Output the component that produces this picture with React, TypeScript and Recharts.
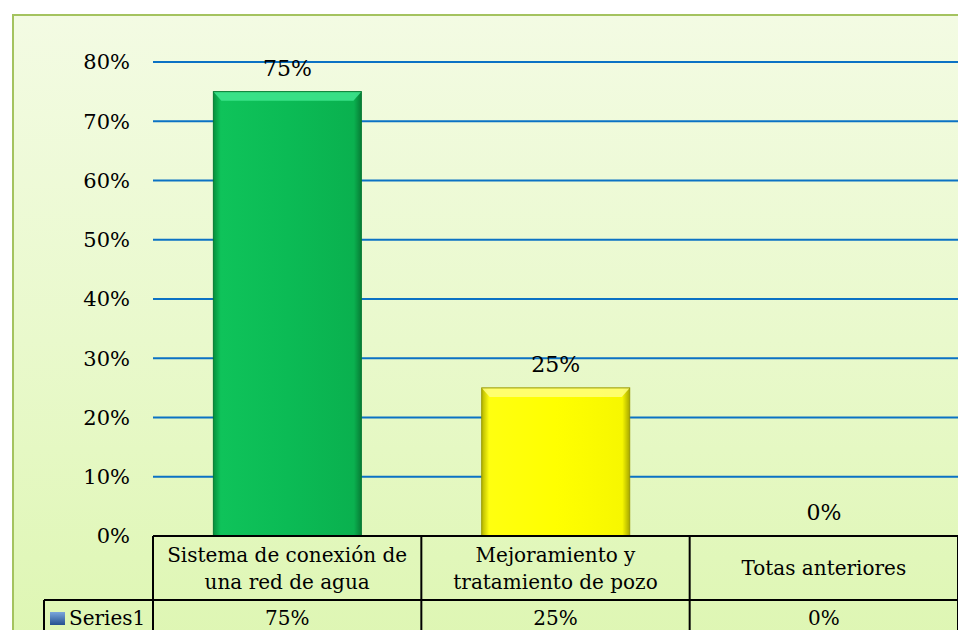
import { BarChart, Bar, XAxis, YAxis, CartesianGrid, Cell, LabelList } from "recharts";

// categorías del eje X (saltos de línea como en la tabla de datos)
const categories = [
  "Sistema de conexión de\nuna red de agua",
  "Mejoramiento y\ntratamiento de pozo",
  "Totas anteriores",
];
const series1 = [0.75, 0.25, 0];
const seriesName = "Series1";
const yTicks = [0, 0.1, 0.2, 0.3, 0.4, 0.5, 0.6, 0.7, 0.8];
const barColors = ["green", "yellow", "green"];

const data = categories.map((name, i) => ({ name, value: series1[i] }));

const W = 958;
const H = 630;
const Y_AXIS_W = 153;
const X_AXIS_H = 94;
const TOP = 62;
const BAND = (W - Y_AXIS_W) / categories.length;
const FONT = "'DejaVu Serif', serif";
const pct = (v: number) => `${Math.round(v * 100)}%`;

// celdas de la tabla de datos, dibujadas desde cada tick del eje X
function TableTick(props: any) {
  const { x, y, payload, index } = props;
  const lines = String(payload.value).split("\n");
  const row1 = 64;
  const bottom = 120;
  const left = x - BAND / 2;
  const right = x + BAND / 2;
  const lh = 27;
  const startY = y + row1 / 2 - ((lines.length - 1) * lh) / 2;
  return (
    <g fontFamily={FONT} fontSize={20} fill="#000">
      <line x1={right} y1={y} x2={right} y2={y + bottom} stroke="#000" strokeWidth={2} />
      {index === 0 && (
        <g>
          <line x1={left} y1={y} x2={left} y2={y + bottom} stroke="#000" strokeWidth={2} />
          <line x1={44} y1={y + row1} x2={W} y2={y + row1} stroke="#000" strokeWidth={2} />
          <line x1={44} y1={y + row1} x2={44} y2={y + bottom} stroke="#000" strokeWidth={2} />
          <rect x={50} y={y + 76} width={15} height={13} fill="url(#keyGrad)" />
          <text x={69} y={y + 82} dominantBaseline="central">{seriesName}</text>
        </g>
      )}
      {lines.map((l, i) => (
        <text key={i} x={x} y={startY + i * lh} textAnchor="middle" dominantBaseline="central">
          {l}
        </text>
      ))}
      <text x={x} y={y + 82} textAnchor="middle" dominantBaseline="central">
        {pct(series1[index])}
      </text>
    </g>
  );
}

// barra con efecto biselado
function BevelBar(props: any) {
  const { x, y, width, height, index } = props;
  if (!height || height <= 0) return null;
  const c = barColors[index];
  const light = c === "green" ? "#41e68f" : "#ffff80";
  const edge = c === "green" ? "#067a33" : "#9a9a00";
  return (
    <g>
      <rect x={x} y={y} width={width} height={height} fill={`url(#${c}Grad)`} />
      <path
        d={`M${x},${y} L${x + width},${y} L${x + width - 8},${y + 9} L${x + 8},${y + 9} Z`}
        fill={light}
        opacity={0.85}
      />
      <rect x={x} y={y} width={width} height={height} fill="none" stroke={edge} strokeWidth={1} />
    </g>
  );
}

export default function App() {
  return (
    <div style={{ position: "absolute", left: 0, top: 0, width: W, height: H, overflow: "hidden", background: "#fff" }}>
      <div
        style={{
          position: "absolute",
          left: 12,
          top: 14,
          width: W + 20,
          height: H + 20,
          border: "2px solid #a4c35f",
          background: "linear-gradient(to bottom, #f3fbe3 0%, #e9f9cc 50%, #ddf6b1 100%)",
        }}
      />
      <div style={{ position: "absolute", left: 0, top: 0 }}>
        <BarChart
          width={W}
          height={H}
          data={data}
          margin={{ top: TOP, right: 0, bottom: 0, left: 0 }}
          barCategoryGap="22.5%"
        >
          <defs>
            <linearGradient id="greenGrad" x1="0" y1="0" x2="1" y2="0">
              <stop offset="0%" stopColor="#07903d" />
              <stop offset="5%" stopColor="#0fc35a" />
              <stop offset="50%" stopColor="#0bbb55" />
              <stop offset="95%" stopColor="#0ab14f" />
              <stop offset="100%" stopColor="#077c35" />
            </linearGradient>
            <linearGradient id="yellowGrad" x1="0" y1="0" x2="1" y2="0">
              <stop offset="0%" stopColor="#b5b500" />
              <stop offset="5%" stopColor="#ffff10" />
              <stop offset="50%" stopColor="#ffff00" />
              <stop offset="95%" stopColor="#f7f700" />
              <stop offset="100%" stopColor="#a8a800" />
            </linearGradient>
            <linearGradient id="keyGrad" x1="0" y1="0" x2="0" y2="1">
              <stop offset="0%" stopColor="#7aa6dc" />
              <stop offset="100%" stopColor="#24508f" />
            </linearGradient>
          </defs>
          <CartesianGrid vertical={false} stroke="#0b72c4" strokeWidth={2} />
          <XAxis
            dataKey="name"
            height={X_AXIS_H}
            axisLine={{ stroke: "#000", strokeWidth: 2 }}
            tickLine={false}
            tickSize={0}
            tickMargin={0}
            interval={0}
            tick={<TableTick />}
          />
          <YAxis
            width={Y_AXIS_W}
            domain={[0, 0.8]}
            ticks={yTicks}
            tickFormatter={pct}
            axisLine={false}
            tickLine={false}
            tickSize={0}
            tickMargin={23}
            tick={{ fill: "#000", fontSize: 21, fontFamily: FONT }}
          />
          <Bar dataKey="value" shape={<BevelBar />} isAnimationActive={false}>
            {data.map((d, i) => (
              <Cell key={d.name} fill={barColors[i]} />
            ))}
            <LabelList
              dataKey="value"
              position="top"
              offset={16}
              formatter={(v: any) => pct(Number(v))}
              style={{ fill: "#000", fontSize: 22, fontFamily: FONT }}
            />
          </Bar>
        </BarChart>
      </div>
    </div>
  );
}
